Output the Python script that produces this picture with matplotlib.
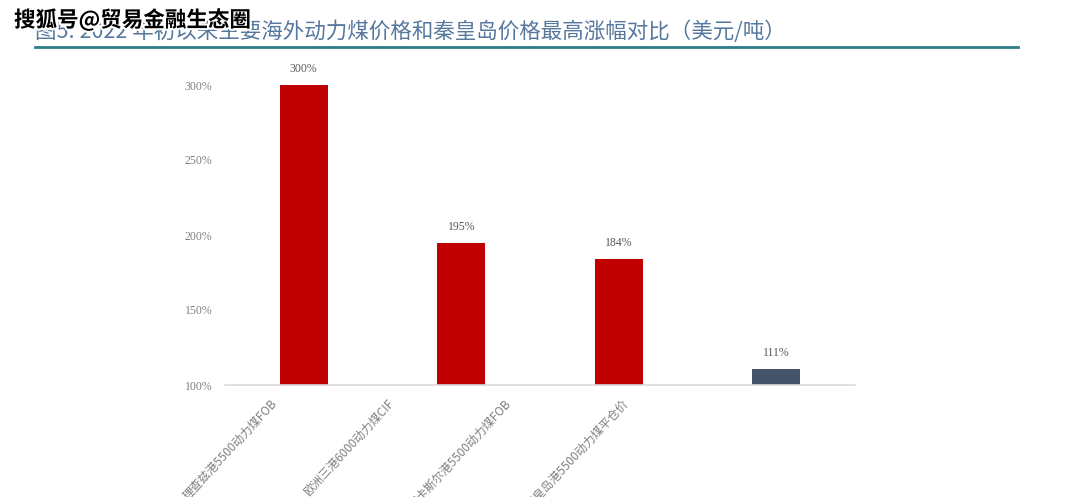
import matplotlib.pyplot as plt
import matplotlib.patheffects as pe

plt.rcParams["font.family"] = ["Noto Sans CJK SC", "DejaVu Sans"]

categories = ["理查兹港5500动力煤FOB", "欧洲三港6000动力煤CIF",
              "纽卡斯尔港5500动力煤FOB", "秦皇岛港5500动力煤平仓价"]
values = [300, 195, 184, 111]
value_labels = ["300%", "195%", "184%", "111%"]
yticks = [100, 150, 200, 250, 300]
ytick_labels = ["100%", "150%", "200%", "250%", "300%"]

RED = "#C00000"
SLATE = "#44546A"
GREY = "#808080"
colors = [RED, RED, RED, SLATE]
SERIF = ["Liberation Serif", "DejaVu Serif"]

fig = plt.figure(figsize=(10.8, 4.97), dpi=100, facecolor="white")
ax = fig.add_axes([225 / 1080, 1 - 385 / 497, 630 / 1080, 330 / 497])

x = list(range(len(categories)))
ax.bar(x, [v - 100 for v in values], bottom=100, width=0.305, color=colors)
ax.set_xlim(-0.5, len(categories) - 0.5)
ax.set_ylim(100, 320)

for xi, v, lab in zip(x, values, value_labels):
    ax.annotate(lab, (xi, v), xytext=(0, 7), textcoords="offset points",
                ha="center", va="bottom", fontsize=8.5, color="#595959",
                family=SERIF)

ax.set_yticks(yticks)
ax.set_yticklabels(ytick_labels, fontsize=8.5, color=GREY, family=SERIF)
ax.tick_params(axis="y", length=0, pad=9)
ax.set_xticks([])
for s in ["top", "right", "left"]:
    ax.spines[s].set_visible(False)
ax.spines["bottom"].set_color("#D9D9D9")
ax.spines["bottom"].set_linewidth(1.2)

# rotated category labels (the bottom of the last ones runs off the page, as in the source)
for i, lab in enumerate(categories):
    xe = (270 + 117.3 * i) / 1080
    fig.text(xe, 1 - 397 / 497, lab, rotation=47, rotation_mode="anchor",
             ha="right", va="top", fontsize=8.5, color=GREY,
             family=["Noto Sans CJK SC"] + SERIF)

# title and rule
fig.text(35 / 1080, 1 - 32 / 497,
         "图5: 2022 年初以来主要海外动力煤价格和秦皇岛价格最高涨幅对比（美元/吨）",
         fontsize=15.5, color="#56789E", va="center", ha="left")
fig.add_artist(plt.Line2D([35 / 1080, 1018 / 1080], [1 - 47 / 497, 1 - 47 / 497],
                          color="#2E7D8C", lw=2))

# watermark
fig.text(14 / 1080, 1 - 20 / 497, "搜狐号@贸易金融生态圈", fontsize=15.5,
         fontweight="bold", color="black", va="center", ha="left",
         path_effects=[pe.withStroke(linewidth=3, foreground="white")])

fig.savefig("out.png", dpi=100, facecolor="white")
